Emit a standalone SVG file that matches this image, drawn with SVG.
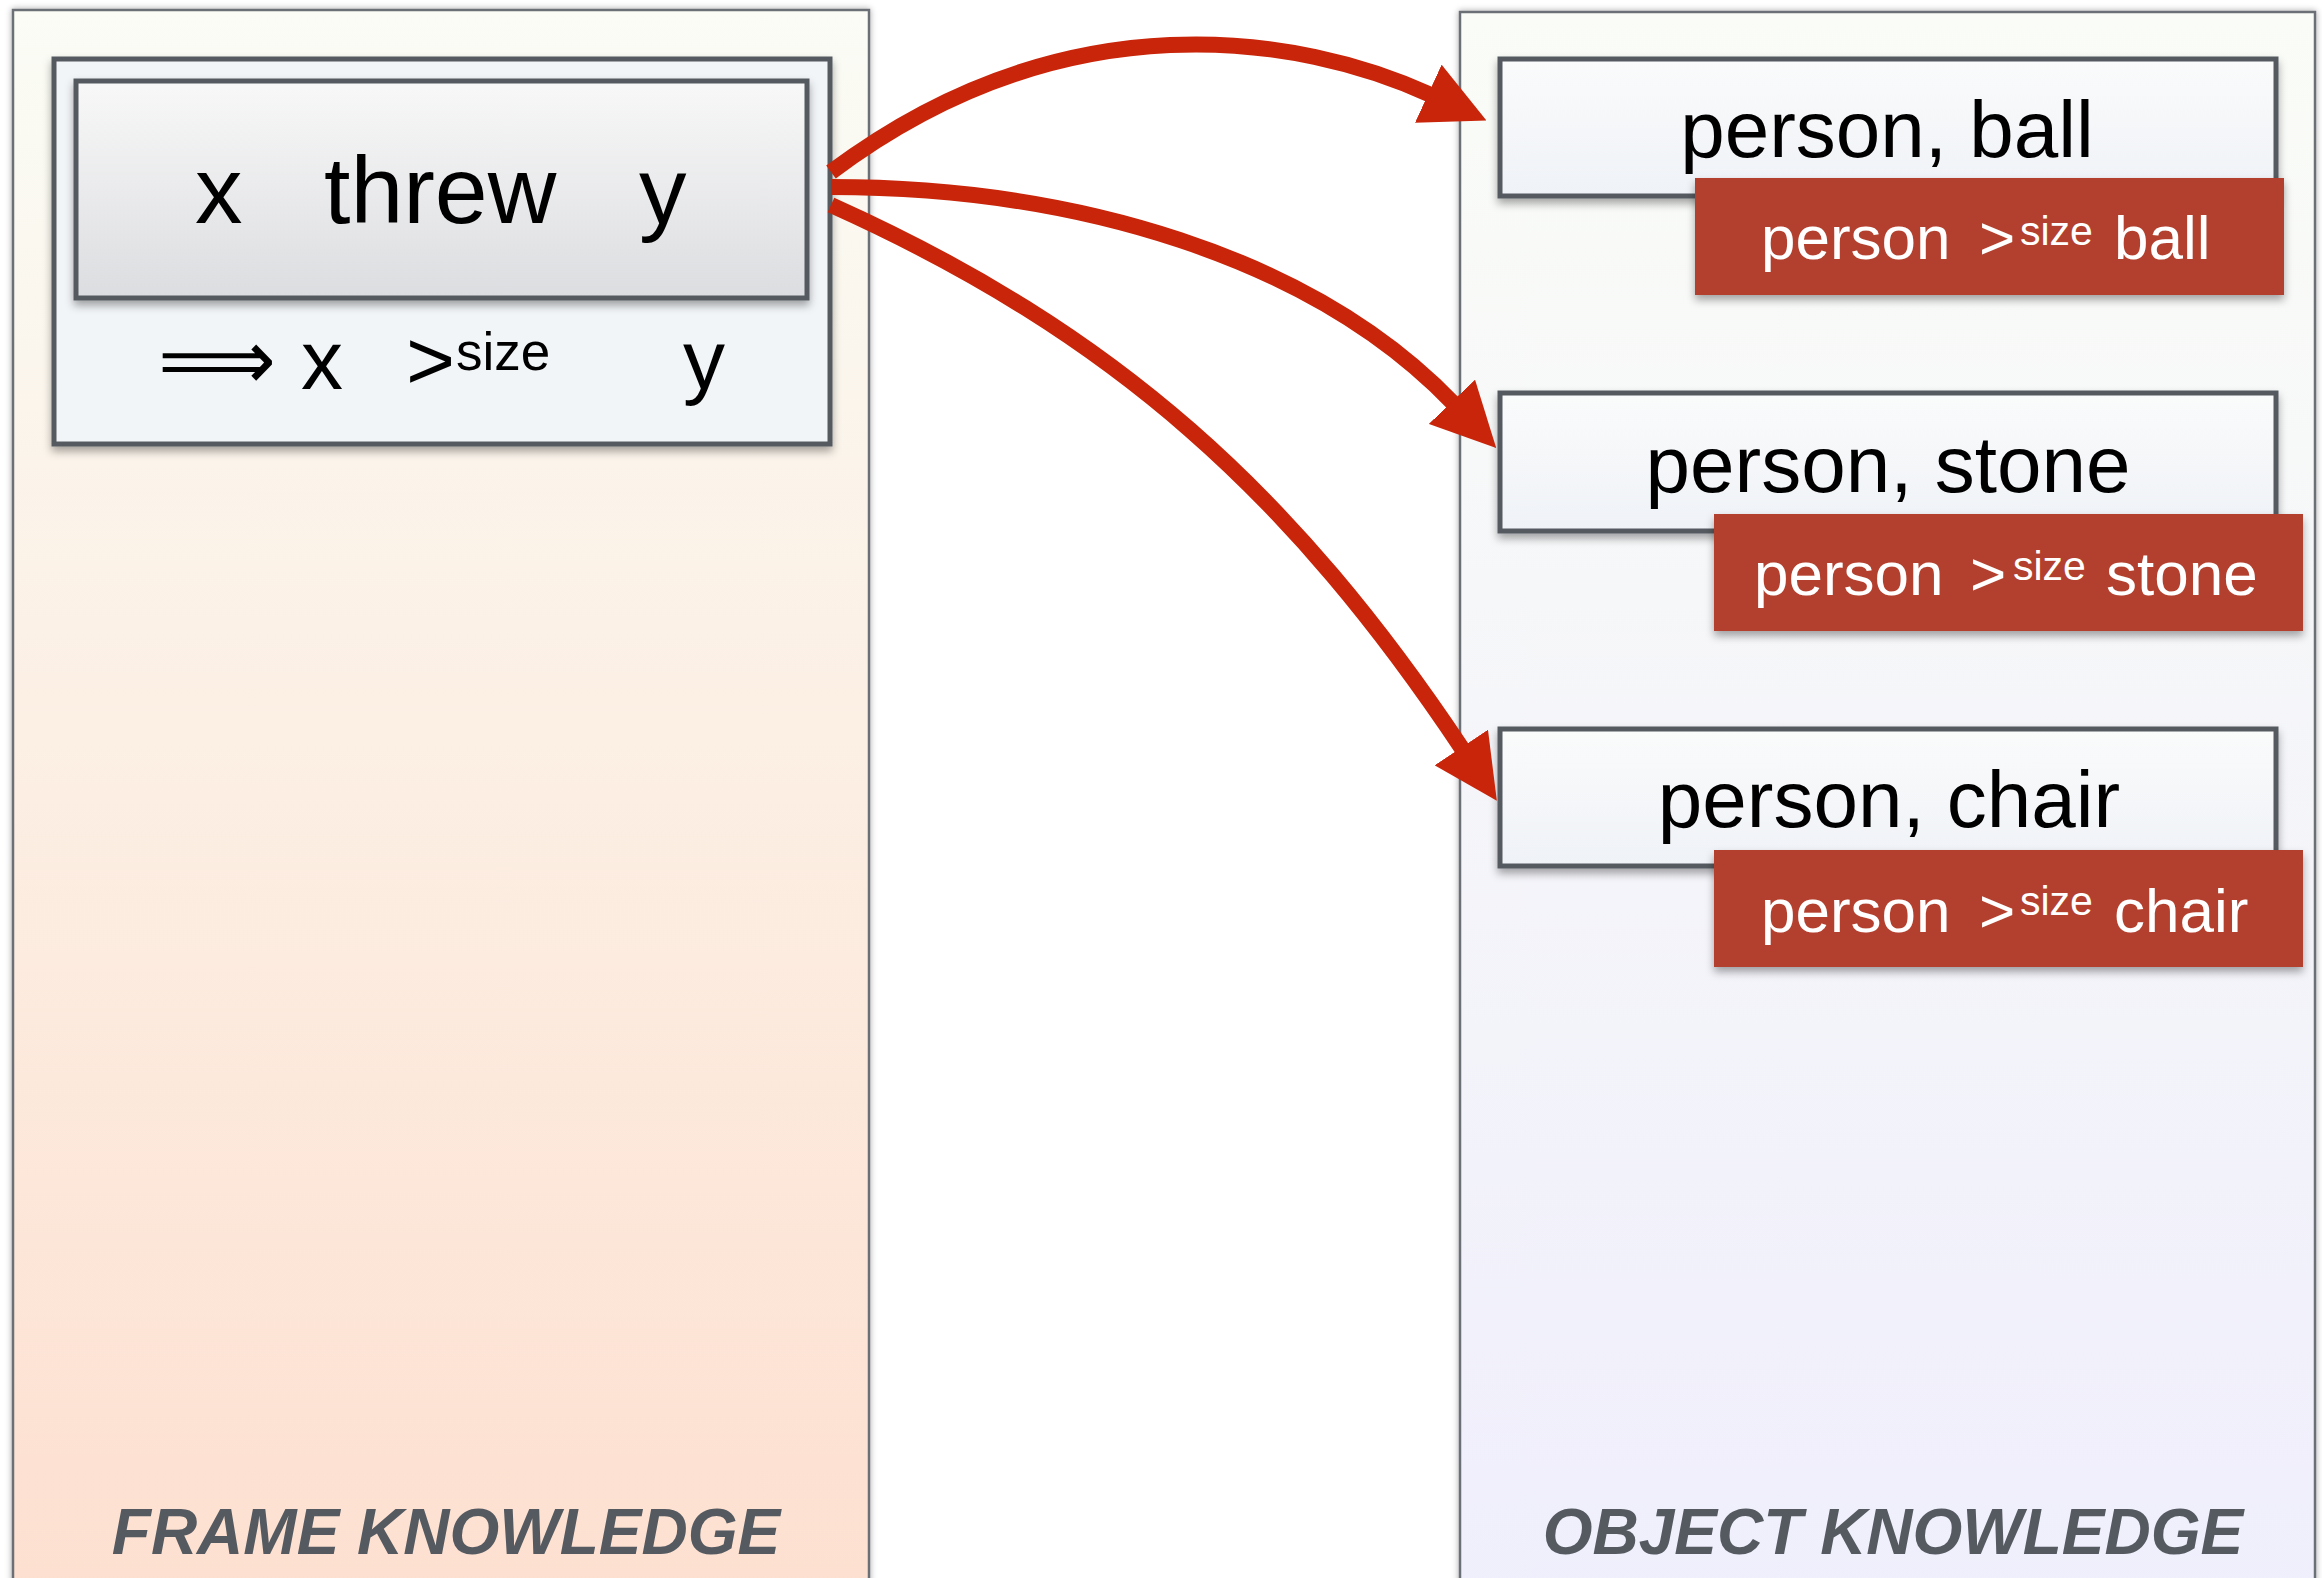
<svg xmlns="http://www.w3.org/2000/svg" width="2322" height="1578" viewBox="0 0 2322 1578">
  <defs>
    <linearGradient id="gFrame" x1="0" y1="0" x2="0" y2="1">
      <stop offset="0" stop-color="#fafcf5"/>
      <stop offset="0.45" stop-color="#fcefe4"/>
      <stop offset="1" stop-color="#fddfcf"/>
    </linearGradient>
    <linearGradient id="gObject" x1="0" y1="0" x2="0" y2="1">
      <stop offset="0" stop-color="#fafcf7"/>
      <stop offset="1" stop-color="#efeefc"/>
    </linearGradient>
    <linearGradient id="gInner" x1="0" y1="0" x2="0" y2="1">
      <stop offset="0" stop-color="#f8f8f8"/>
      <stop offset="1" stop-color="#dcdde0"/>
    </linearGradient>
    <linearGradient id="gPair" x1="0" y1="0" x2="0" y2="1">
      <stop offset="0" stop-color="#fafbfb"/>
      <stop offset="1" stop-color="#eff2f7"/>
    </linearGradient>
    <filter id="shadow" x="-5%" y="-10%" width="110%" height="130%">
      <feDropShadow dx="0" dy="5" stdDeviation="4" flood-color="#000" flood-opacity="0.35"/>
    </filter>
    <filter id="panelShadow" x="-3%" y="-3%" width="106%" height="106%">
      <feDropShadow dx="0" dy="0" stdDeviation="3" flood-color="#000" flood-opacity="0.35"/>
    </filter>
    <marker id="head" markerUnits="userSpaceOnUse" viewBox="0 0 64 64" markerWidth="64" markerHeight="64" refX="3" refY="32" orient="auto">
      <path d="M0,0 L64,32 L0,64 Z" fill="#c8250a"/>
    </marker>
    <style>
      .panel { stroke: #6b7075; stroke-width: 2.5; }
      .box { stroke: #545a60; stroke-width: 5; }
      .red { fill: #b3412f; }
      .sans { font-family: "Liberation Sans", Arial, sans-serif; }
      .dark { fill: #000; }
      .white { fill: #fff; }
      .caption { font-family: "Liberation Sans", Arial, sans-serif; font-weight: bold; font-style: italic; font-size: 64px; fill: #555a60; text-anchor: middle; }
      .conn { fill: none; stroke: #c8250a; stroke-width: 16; marker-end: url(#head); }
    </style>
  </defs>

  <rect width="2322" height="1578" fill="#fff"/>

  <!-- frame knowledge panel -->
  <g id="frame-panel">
    <rect class="panel" x="13" y="10" width="856" height="1620" fill="url(#gFrame)" filter="url(#panelShadow)"/>
    <text class="caption" x="446" y="1554">FRAME KNOWLEDGE</text>
  </g>

  <!-- object knowledge panel -->
  <g id="object-panel">
    <rect class="panel" x="1460" y="12" width="855" height="1620" fill="url(#gObject)" filter="url(#panelShadow)"/>
    <text class="caption" x="1893" y="1554">OBJECT KNOWLEDGE</text>
  </g>

  <!-- frame: x threw y => x >size y -->
  <g id="frame-threw">
    <rect class="box" x="54" y="59" width="776" height="385" fill="#f2f5f8" filter="url(#shadow)"/>
    <rect class="box" x="76" y="81" width="731" height="217" fill="url(#gInner)" filter="url(#shadow)"/>
    <g class="sans dark" font-size="95">
      <text x="195" y="223">x</text>
      <text x="324" y="223">threw</text>
      <text x="639" y="223">y</text>
    </g>
    <g class="dark">
      <text x="158" y="389" font-family="'DejaVu Sans', sans-serif" font-size="84" textLength="118" lengthAdjust="spacingAndGlyphs">⟹</text>
      <text class="sans" x="301" y="389" font-size="84">x</text>
      <text class="sans" x="406" y="389" font-size="84">&gt;</text>
      <text class="sans" x="456" y="370" font-size="53">size</text>
      <text class="sans" x="683" y="389" font-size="84">y</text>
    </g>
  </g>

  <!-- object pair: person, ball -->
  <g id="obj-ball">
    <rect class="box" x="1500" y="59" width="776" height="137" fill="url(#gPair)" filter="url(#shadow)"/>
    <text class="sans dark" x="1887" y="157" font-size="80" text-anchor="middle">person, ball</text>
    <rect class="red" x="1695" y="178" width="589" height="117" filter="url(#shadow)"/>
    <g class="sans white">
      <text x="1761" y="259" font-size="62">person</text>
      <text x="1979" y="259" font-size="62">&gt;</text>
      <text x="2020" y="245" font-size="41">size</text>
      <text x="2114" y="259" font-size="62">ball</text>
    </g>
  </g>

  <!-- object pair: person, stone -->
  <g id="obj-stone">
    <rect class="box" x="1500" y="393" width="776" height="138" fill="url(#gPair)" filter="url(#shadow)"/>
    <text class="sans dark" x="1888" y="492" font-size="80" text-anchor="middle">person, stone</text>
    <rect class="red" x="1714" y="514" width="589" height="117" filter="url(#shadow)"/>
    <g class="sans white">
      <text x="1754" y="595" font-size="62">person</text>
      <text x="1970" y="595" font-size="62">&gt;</text>
      <text x="2013" y="580" font-size="41">size</text>
      <text x="2106" y="595" font-size="62">stone</text>
    </g>
  </g>

  <!-- object pair: person, chair -->
  <g id="obj-chair">
    <rect class="box" x="1500" y="729" width="776" height="137" fill="url(#gPair)" filter="url(#shadow)"/>
    <text class="sans dark" x="1889" y="827" font-size="80" text-anchor="middle">person, chair</text>
    <rect class="red" x="1714" y="850" width="589" height="117" filter="url(#shadow)"/>
    <g class="sans white">
      <text x="1761" y="932" font-size="62">person</text>
      <text x="1979" y="932" font-size="62">&gt;</text>
      <text x="2020" y="915" font-size="41">size</text>
      <text x="2114" y="932" font-size="62">chair</text>
    </g>
  </g>

  <!-- connectors from the frame to each object pair -->
  <g id="connectors">
    <path class="conn" d="M831,172 C1066,-4 1300,35 1431,95"/>
    <path class="conn" d="M831,187 C1073,187 1312,256 1454,404"/>
    <path class="conn" d="M831,205 C1116,333 1293,495 1463,750"/>
  </g>
</svg>
